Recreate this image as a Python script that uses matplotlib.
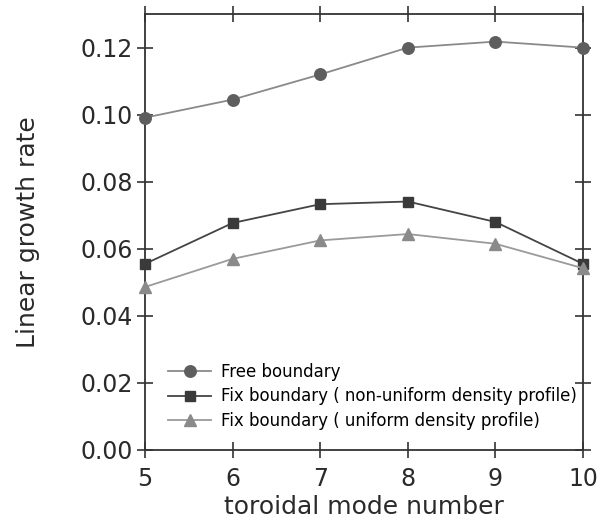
import matplotlib
matplotlib.use("Agg")
import matplotlib.pyplot as plt

plt.rcParams["font.family"] = ["DejaVu Sans"]

# toroidal mode numbers
modes = [5, 6, 7, 8, 9, 10]

# linear growth rates
free_bnd = [0.0991, 0.1045, 0.1120, 0.1200, 0.1218, 0.1200]
fix_nonuniform = [0.0555, 0.0677, 0.0733, 0.0741, 0.0680, 0.0555]
fix_uniform = [0.0486, 0.0570, 0.0625, 0.0644, 0.0615, 0.0542]

labels = [
    "Free boundary",
    "Fix boundary ( non-uniform density profile)",
    "Fix boundary ( uniform density profile)",
]

fig = plt.figure(figsize=(6.08, 5.22), dpi=100)
ax = fig.add_axes([0.2385, 0.138, 0.7205, 0.835])

ax.plot(modes, free_bnd, color="#8a8a8a", linewidth=1.3, marker="o",
        markersize=8.3, markerfacecolor="#5e5e5e", markeredgecolor="#5e5e5e",
        label=labels[0], clip_on=False, zorder=3)
ax.plot(modes, fix_nonuniform, color="#444444", linewidth=1.3, marker="s",
        markersize=7.8, markerfacecolor="#3a3a3a", markeredgecolor="#3a3a3a",
        label=labels[1], clip_on=False, zorder=3)
ax.plot(modes, fix_uniform, color="#9a9a9a", linewidth=1.3, marker="^",
        markersize=9, markerfacecolor="#8a8a8a", markeredgecolor="#8a8a8a",
        label=labels[2], clip_on=False, zorder=3)

ax.set_xlim(5, 10)
ax.set_ylim(0, 0.13)
ax.set_xticks(modes)
ax.set_yticks([0.00, 0.02, 0.04, 0.06, 0.08, 0.10, 0.12])
ax.set_yticklabels(["0.00", "0.02", "0.04", "0.06", "0.08", "0.10", "0.12"])

for s in ax.spines.values():
    s.set_color("#333333")
    s.set_linewidth(1.3)

ax.tick_params(axis="both", which="major", direction="inout", length=11,
               width=1.2, color="#333333", labelsize=17, labelcolor="#2a2a2a",
               top=True, right=True)
ax.tick_params(axis="x", pad=7)
ax.tick_params(axis="y", pad=3)

ax.set_xlabel("toroidal mode number", fontsize=18, color="#2a2a2a", labelpad=3)
ax.set_ylabel("Linear growth rate", fontsize=18, color="#2a2a2a", labelpad=29)

ax.legend(loc="lower left", bbox_to_anchor=(0.037, 0.03), frameon=False,
          fontsize=12, handlelength=2.6, handletextpad=0.6, labelspacing=0.41,
          borderaxespad=0.0)

plt.savefig("out.png", dpi=100)
